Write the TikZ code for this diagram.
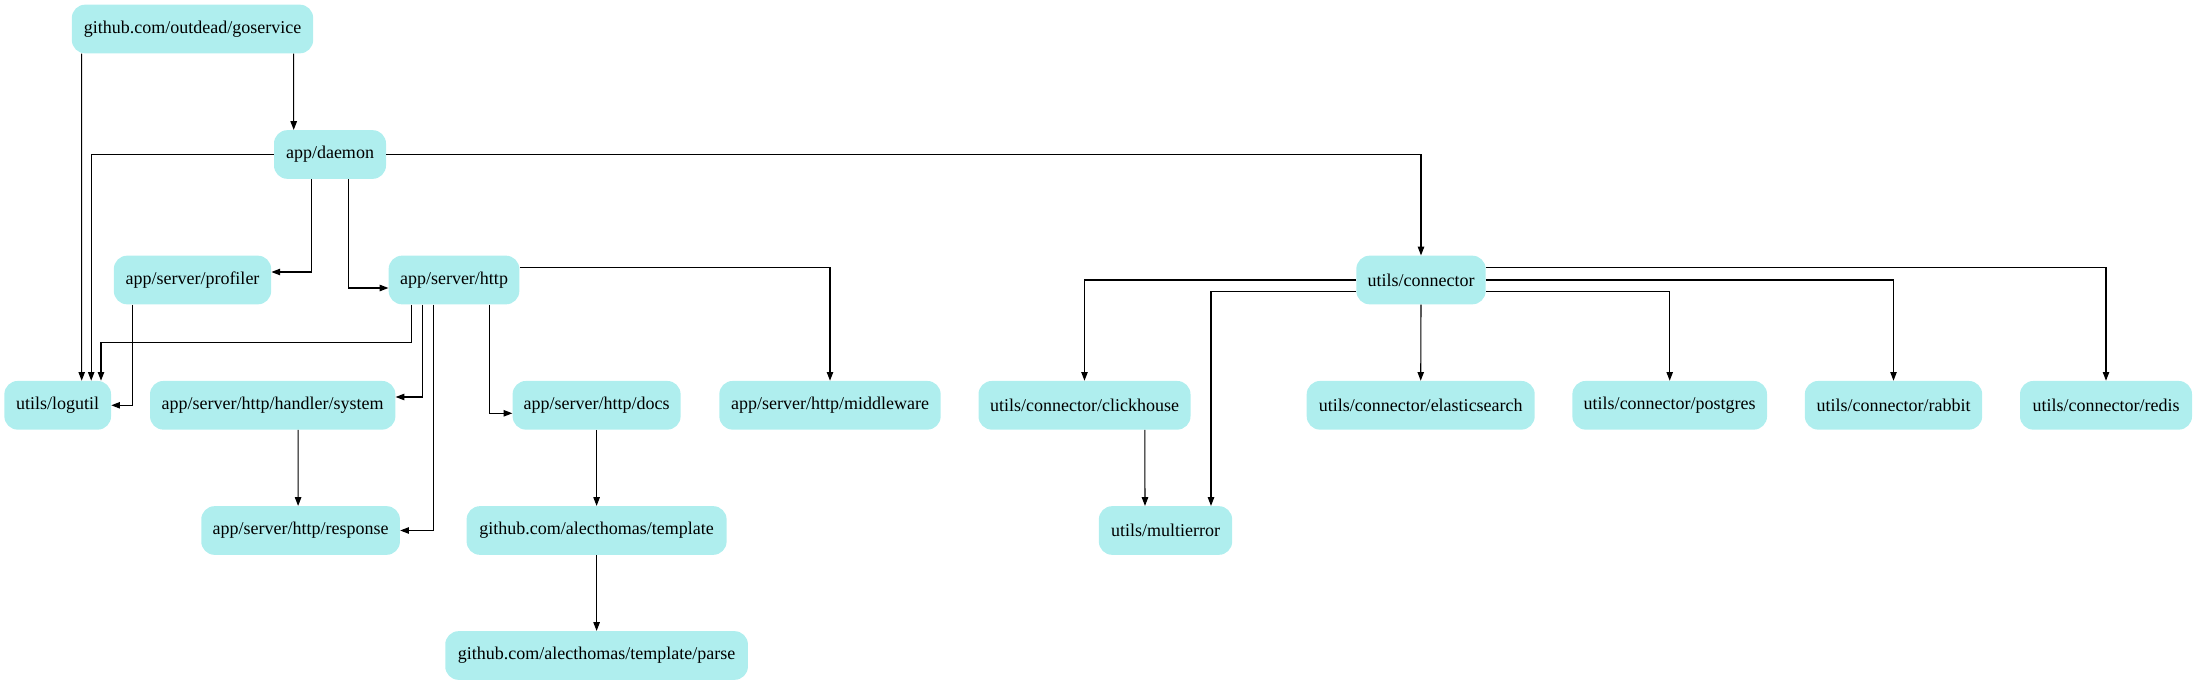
\documentclass[tikz,border=0pt]{standalone}
\usepackage{fontspec}
\setmainfont{Liberation Serif}
\usetikzlibrary{arrows.meta,calc}
\definecolor{pturq}{RGB}{175,238,238}
\begin{document}
\begin{tikzpicture}[x=0.75pt,y=-0.75pt,
  pkg/.style={fill=pturq,draw=none,rounded corners=10pt,minimum height=36.5pt,inner ysep=0pt,inner xsep=8pt,
    font=\fontsize{13.5pt}{16pt}\selectfont},
  e/.style={draw=black,line width=0.8pt,-{Triangle[length=6.5pt,width=4.8pt]}}]
\useasboundingbox (0,0) rectangle (2196,685);
% nodes
\node[pkg,minimum width=181pt] (goservice) at (192.5,29) {github.com/outdead/goservice};
\node[pkg,minimum width=84pt] (daemon) at (330,154.5) {app/daemon};
\node[pkg,minimum width=118pt] (profiler) at (192.5,280) {app/server/profiler};
\node[pkg,minimum width=98pt] (http) at (454,280) {app/server/http};
\node[pkg,minimum width=97pt] (connector) at (1421,280) {utils/connector};
\node[pkg,minimum width=80pt] (logutil) at (57.7,405.3) {utils/logutil};
\node[pkg,minimum width=184pt] (system) at (272.7,405.3) {app/server/http/handler/system};
\node[pkg,minimum width=126pt] (docs) at (596.6,405.3) {app/server/http/docs};
\node[pkg,minimum width=166pt] (middleware) at (830,405.3) {app/server/http/middleware};
\node[pkg,minimum width=159pt] (clickhouse) at (1084.5,405.3) {utils/connector/clickhouse};
\node[pkg,minimum width=171pt] (elastic) at (1420.7,405.3) {utils/connector/elasticsearch};
\node[pkg,minimum width=146pt] (postgres) at (1669.7,405.3) {utils/connector/postgres};
\node[pkg,minimum width=133pt] (rabbit) at (1893.5,405.3) {utils/connector/rabbit};
\node[pkg,minimum width=129pt] (redis) at (2106,405.3) {utils/connector/redis};
\node[pkg,minimum width=149pt] (response) at (300.6,530.5) {app/server/http/response};
\node[pkg,minimum width=195pt] (template) at (596.6,530.5) {github.com/alecthomas/template};
\node[pkg,minimum width=100pt] (multierror) at (1165.5,530.5) {utils/multierror};
\node[pkg,minimum width=227pt] (parse) at (596.6,655.5) {github.com/alecthomas/template/parse};
% edges
\draw[e] ($(goservice.south)+(-110.8,0)$) -- ($(logutil.north)+(24,0)$);
\draw[e] ($(goservice.south)+(101.2,0)$) -- ($(daemon.north)+(-36.3,0)$);
\draw[e] (daemon.west) -| ($(logutil.north)+(33.5,0)$);
\draw[e] ($(daemon.south)+(-18.3,0)$) |- ($(profiler.east)+(0,-8)$);
\draw[e] ($(daemon.south)+(18.3,0)$) |- ($(http.west)+(0,8)$);
\draw[e] (daemon.east) -| (connector.north);
\draw[e] ($(profiler.south)+(-60.3,0)$) |- (logutil.east);
\draw[e] ($(http.south)+(-42.6,0)$) -- ($(http.south)+(-42.6,38)$) -| ($(logutil.north)+(43.3,0)$);
\draw[e] ($(http.south)+(-31.3,0)$) |- ($(system.east)+(0,-8.3)$);
\draw[e] ($(http.south)+(-20.1,0)$) |- (response.east);
\draw[e] ($(http.south)+(35.6,0)$) |- ($(docs.west)+(0,8)$);
\draw[e] ($(http.east)+(0,-12.3)$) -| (middleware.north);
\draw[e] ($(system.south)+(25.4,0)$) -- ($(response.north)+(-2.5,0)$);
\draw[e] (docs.south) -- (template.north);
\draw[e] (template.south) -- (parse.north);
\draw[e] (connector.west) -| (clickhouse.north);
\draw[e] ($(connector.west)+(0,11.7)$) -| ($(multierror.north)+(45.5,0)$);
\draw[e] (connector.south) -- (elastic.north);
\draw[e] ($(connector.east)+(0,11.7)$) -| (postgres.north);
\draw[e] (connector.east) -| (rabbit.north);
\draw[e] ($(connector.east)+(0,-12.3)$) -| (redis.north);
\draw[e] ($(clickhouse.south)+(60.3,0)$) -- ($(multierror.north)+(-20.5,0)$);
\end{tikzpicture}
\end{document}
